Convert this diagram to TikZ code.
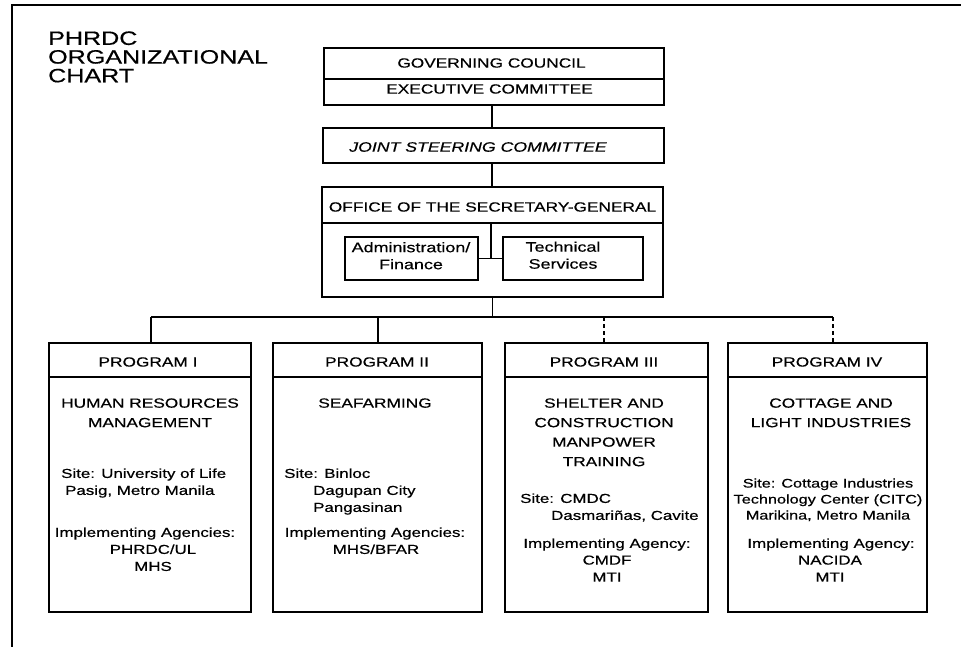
\documentclass[tikz,border=0pt]{standalone}
\usepackage{fontspec}
\setmainfont{Liberation Sans}
\newfontfamily\cf[FakeStretch=1.3,FakeBold=0.5]{Liberation Sans}
\begin{document}
\begin{tikzpicture}[x=1pt,y=-1pt,
  box/.style={draw, line width=1.6pt, rectangle, inner sep=0pt},
  conn/.style={line width=1.9pt},
  dconn/.style={line width=1.9pt, dash pattern=on 4pt off 3pt},
  hdr/.style={font=\cf\fontsize{13.3}{16}\selectfont, inner sep=0pt, anchor=center},
  body/.style={font=\cf\fontsize{13}{17}\selectfont, inner sep=0pt, anchor=north, align=center},
  bodyl/.style={font=\cf\fontsize{13}{17}\selectfont, inner sep=0pt, anchor=north west, align=left},
  ptitle/.style={font=\cf\fontsize{13.3}{19.5}\selectfont, inner sep=0pt, anchor=north, align=center}]
\useasboundingbox (0,0) rectangle (961,647);
% frame
\coordinate (fa) at (12,647);
\coordinate (fb) at (12,5);
\coordinate (fc) at (961,5);
\draw[line width=1.5pt] (fa) -- (fb) -- (fc);
% title
\node[font=\cf\fontsize{19.3}{18.7}\selectfont, inner sep=0pt, anchor=north west, align=left] (title) at (48,31.2) {PHRDC\\ORGANIZATIONAL\\CHART};
% top boxes
\node[box, minimum width=340pt, minimum height=31pt] (gc) at (494,63.5) {};
\node[box, minimum width=340pt, minimum height=26pt] (ec) at (494,92) {};
\node[hdr] (gct) at (491.5,63) {GOVERNING COUNCIL};
\node[hdr] (ect) at (489.5,89) {EXECUTIVE COMMITTEE};
\node[box, minimum width=341pt, minimum height=35pt] (jsc) at (493.5,145.5) {};
\node[hdr, font=\cf\itshape\fontsize{13.6}{16}\selectfont] (jsct) at (478,147) {JOINT STEERING COMMITTEE};
\node[box, minimum width=341pt, minimum height=36pt] (osh) at (492.5,205) {};
\node[box, minimum width=341pt, minimum height=74pt] (osb) at (492.5,260) {};
\node[hdr] (osht) at (492.5,207) {OFFICE OF THE SECRETARY-GENERAL};
\node[box, minimum width=133pt, minimum height=43pt] (adm) at (411.5,258.5) {};
\node[box, minimum width=140pt, minimum height=43pt] (tec) at (573,258.5) {};
\node[body, font=\cf\fontsize{13.8}{17}\selectfont] (admt) at (411,242) {Administration/\\Finance};
\node[body, font=\cf\fontsize{13.8}{17}\selectfont] (tect) at (563,241.5) {Technical\\Services};
% connectors top
\draw[conn] (ec.south -| 492,0) -- (jsc.north -| 492,0);
\draw[conn] (jsc.south -| 492,0) -- (osh.north -| 492,0);
\coordinate (mid) at (491,258.5);
\draw[conn] (adm.east) -- (tec.west);
\draw[conn] (osh.south -| mid) -- (mid);
% programs
\node[box, minimum width=202pt, minimum height=34pt] (p1h) at (150,360) {};
\node[box, minimum width=202pt, minimum height=235pt] (p1b) at (150,494.5) {};
\node[box, minimum width=209pt, minimum height=34pt] (p2h) at (377.5,360) {};
\node[box, minimum width=209pt, minimum height=235pt] (p2b) at (377.5,494.5) {};
\node[box, minimum width=203pt, minimum height=34pt] (p3h) at (606.5,360) {};
\node[box, minimum width=203pt, minimum height=235pt] (p3b) at (606.5,494.5) {};
\node[box, minimum width=199pt, minimum height=34pt] (p4h) at (827.5,360) {};
\node[box, minimum width=199pt, minimum height=235pt] (p4b) at (827.5,494.5) {};
% bus
\coordinate (bus) at (492.5,317);
\coordinate (b1) at (151,317);
\coordinate (b2) at (378,317);
\coordinate (b3) at (604,317);
\coordinate (b4) at (833,317);
\draw[conn] (osb.south) -- (bus);
\draw[conn] (b1) -- (b4);
\draw[conn] (b1) -- (b1 |- p1h.north);
\draw[conn] (b2) -- (b2 |- p2h.north);
\draw[dconn] (b3) -- (b3 |- p3h.north);
\draw[dconn] (b4) -- (b4 |- p4h.north);
% program headers
\node[hdr] (p1ht) at (148,362) {PROGRAM I};
\node[hdr] (p2ht) at (377,362) {PROGRAM II};
\node[hdr] (p3ht) at (604,362) {PROGRAM III};
\node[hdr] (p4ht) at (827,362) {PROGRAM IV};
% program titles
\node[ptitle] (p1t) at (150,398.2) {HUMAN RESOURCES\\MANAGEMENT};
\node[ptitle] (p2t) at (375,398.2) {SEAFARMING};
\node[ptitle] (p3t) at (604,398.2) {SHELTER AND\\CONSTRUCTION\\MANPOWER\\TRAINING};
\node[ptitle] (p4t) at (831,398.2) {COTTAGE AND\\LIGHT INDUSTRIES};
% program I
\node[bodyl] (p1s) at (61,468.3) {Site: University of Life\\\hspace*{4pt}Pasig, Metro Manila};
\node[body] (p1a) at (145,527.3) {Implementing Agencies:};
\node[body] (p1n) at (153,544.3) {PHRDC/UL\\MHS};
% program II
\node[bodyl] (p2s) at (284,468.3) {Site: Binloc\\\hspace*{29pt}Dagupan City\\\hspace*{29pt}Pangasinan};
\node[body] (p2a) at (375,527.3) {Implementing Agencies:};
\node[body] (p2n) at (376,544.3) {MHS/BFAR};
% program III
\node[bodyl] (p3s) at (520,493.3) {Site: CMDC\\\hspace*{31pt}Dasmariñas, Cavite};
\node[body] (p3a) at (607,538.3) {Implementing Agency:};
\node[body] (p3n) at (607,555.3) {CMDF\\MTI};
% program IV
\node[body, font=\cf\fontsize{12.5}{16}\selectfont] (p4s) at (828,478.3) {Site: Cottage Industries\\Technology Center (CITC)\\Marikina, Metro Manila};
\node[body] (p4a) at (831,538.3) {Implementing Agency:};
\node[body] (p4n) at (830,555.3) {NACIDA\\MTI};
\end{tikzpicture}
\end{document}
